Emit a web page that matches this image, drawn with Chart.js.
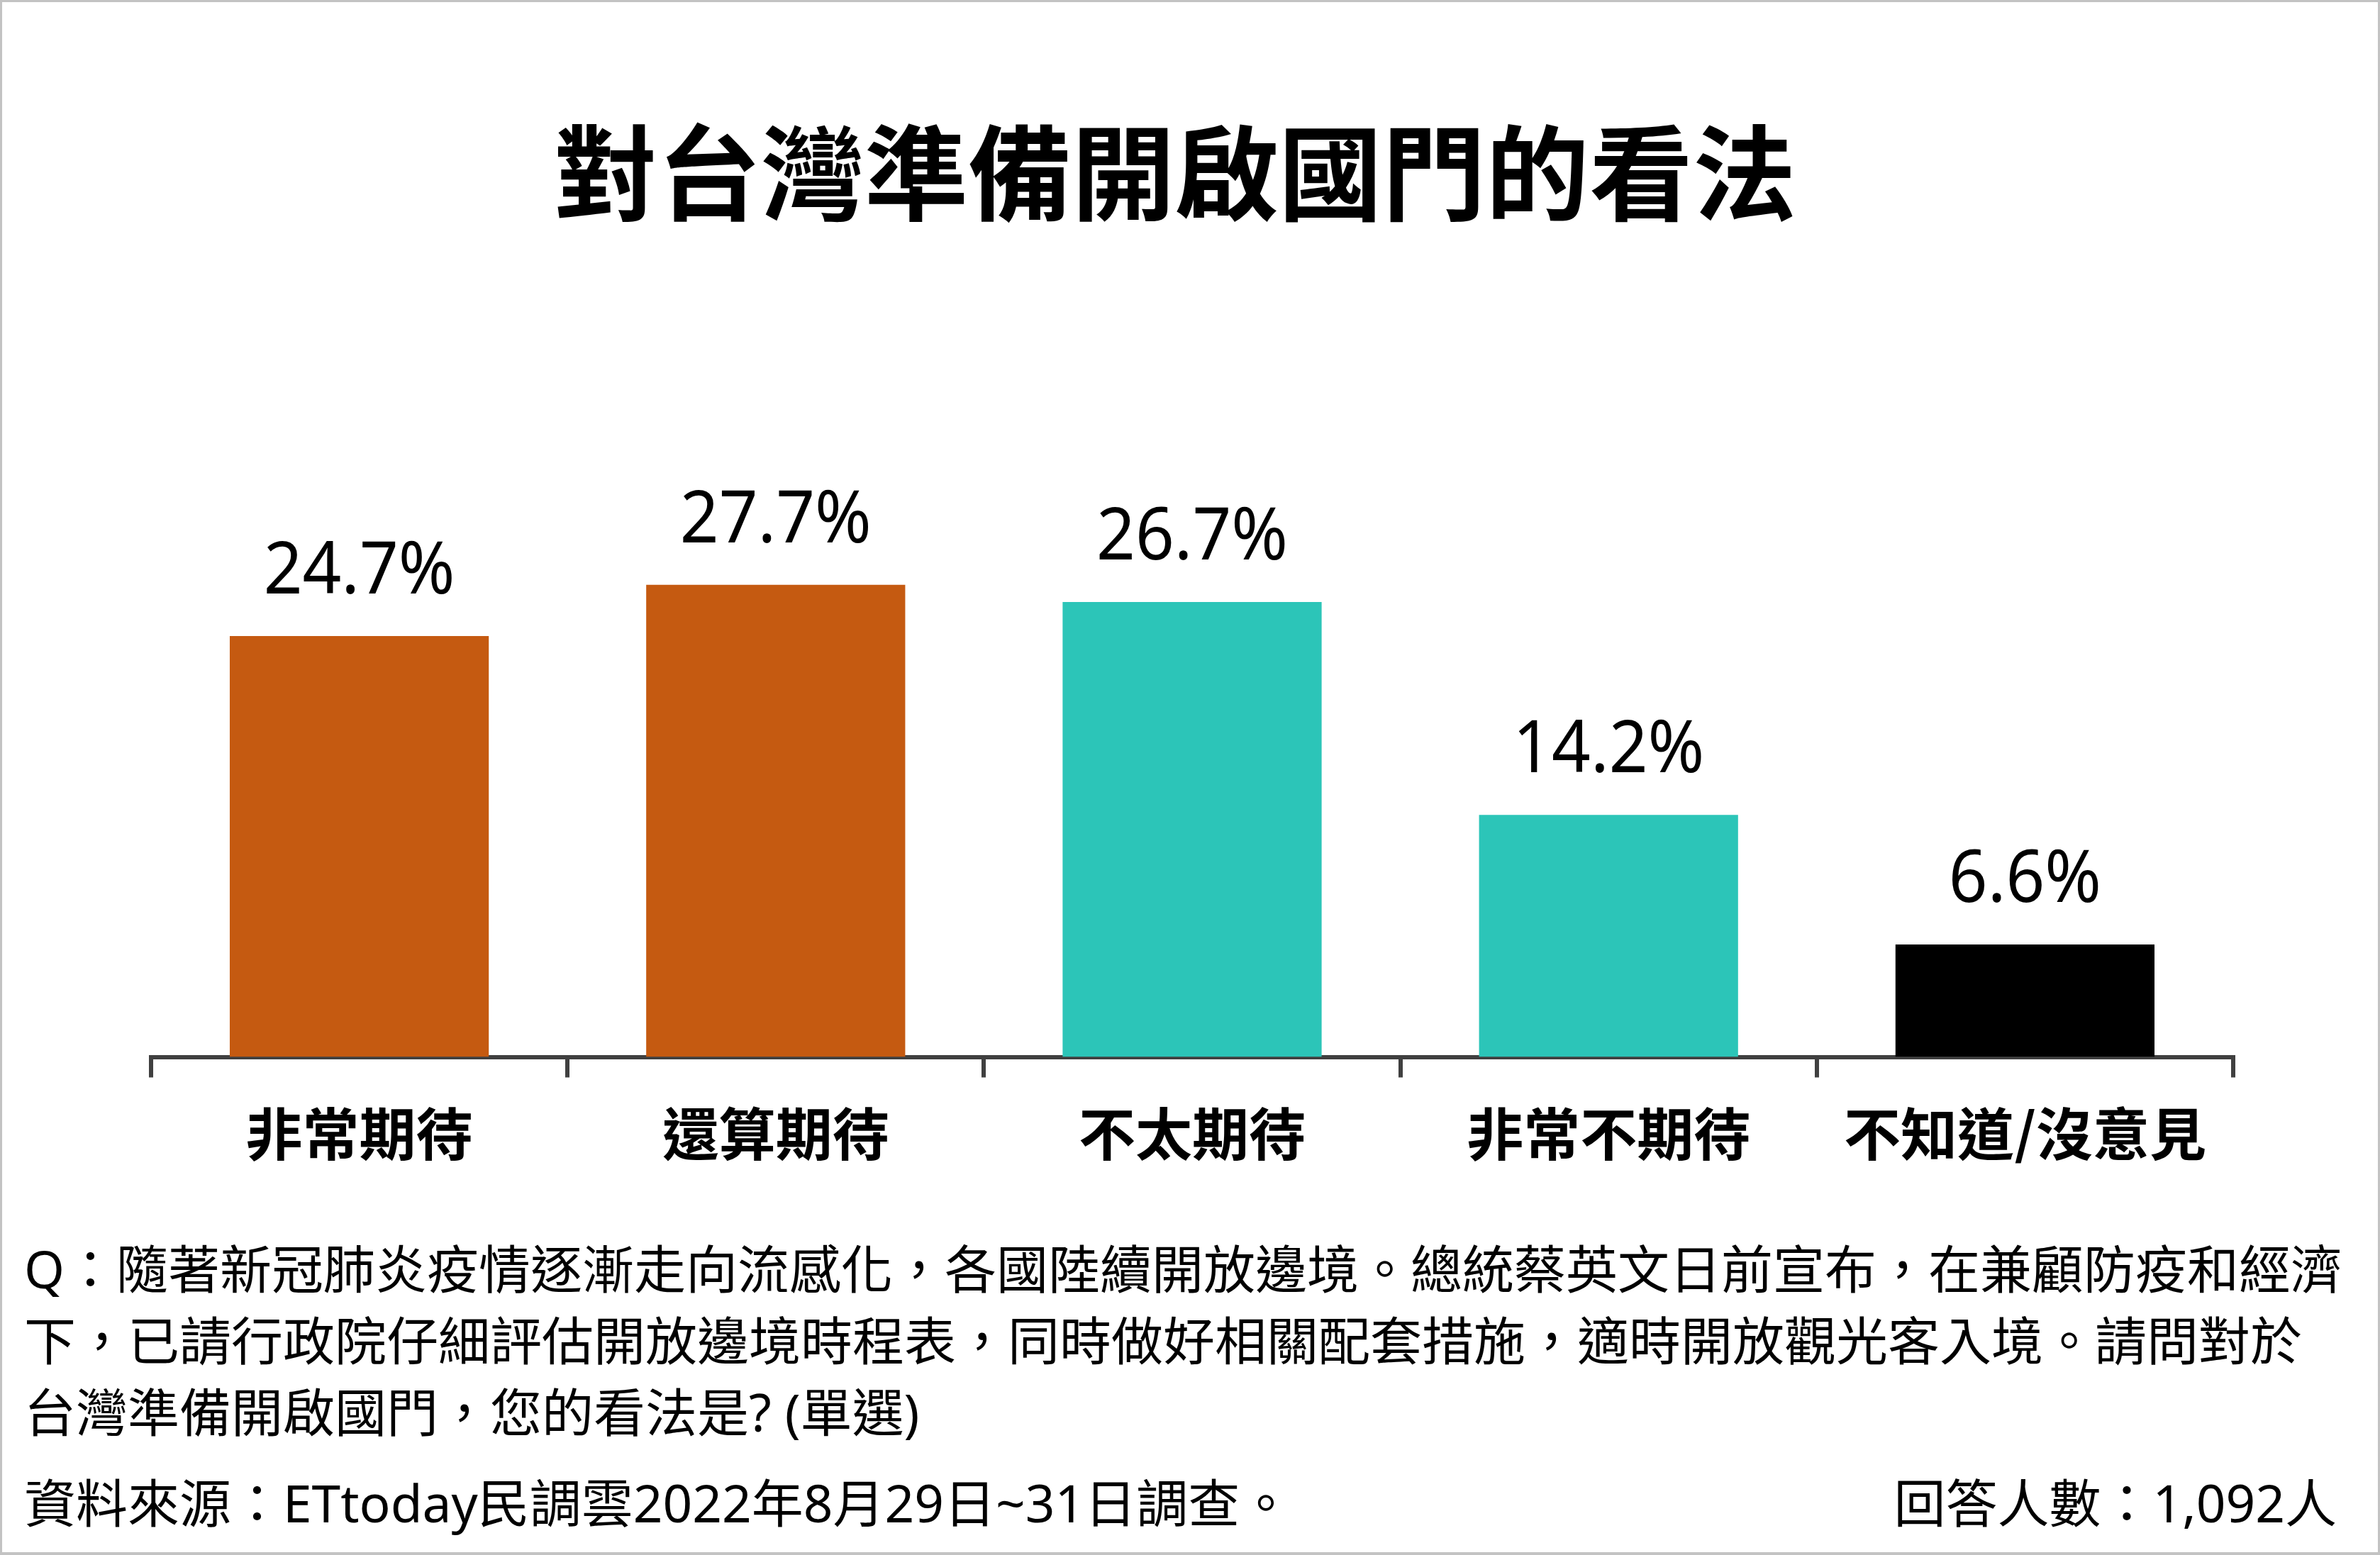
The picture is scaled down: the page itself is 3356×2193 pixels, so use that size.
<!DOCTYPE html>
<html>
<head>
<meta charset="utf-8">
<script src="https://cdn.jsdelivr.net/npm/chart.js@4.4.0/dist/chart.umd.min.js"></script>
<style>
html,body{margin:0;padding:0;background:#fff;}
body{width:3356px;height:2193px;position:relative;overflow:hidden;font-family:"Noto Sans CJK TC","Noto Sans",sans-serif;color:#000;}
#frame{position:absolute;left:0;top:0;width:3356px;height:2193px;box-sizing:border-box;border:3px solid #c3c3c3;border-bottom-width:4px;pointer-events:none;z-index:5;}
#chart{position:absolute;left:0;top:0;}
#title{position:absolute;left:657px;width:2000px;text-align:center;top:148px;font-size:146px;font-weight:700;line-height:175px;white-space:nowrap;}
.foot{position:absolute;font-family:"Noto Sans","Noto Sans CJK TC",sans-serif;font-size:73px;line-height:101px;white-space:nowrap;}
#question{left:34px;top:1738px;}
#source{left:34px;top:2068px;}
#count{right:61px;top:2068px;text-align:right;}
</style>
</head>
<body>
<canvas id="chart" width="3356" height="2193"></canvas>
<div id="title"></div>
<div id="question" class="foot"></div>
<div id="source" class="foot"></div>
<div id="count" class="foot"></div>
<div id="frame"></div>
<script>
// ---- data ----
const titleText = '對台灣準備開啟國門的看法';
const categories = ['非常期待', '還算期待', '不太期待', '非常不期待', '不知道/沒意見'];
const values = [24.7, 27.7, 26.7, 14.2, 6.6];
const questionLines = [
  'Q：隨著新冠肺炎疫情逐漸走向流感化，各國陸續開放邊境。總統蔡英文日前宣布，在兼顧防疫和經濟',
  '下，已請行政院仔細評估開放邊境時程表，同時做好相關配套措施，適時開放觀光客入境。請問對於',
  '台灣準備開啟國門，您的看法是? (單選)'
];
const sourceText = '資料來源：ETtoday民調雲2022年8月29日~31日調查。';
const countText = '回答人數：1,092人';
const yMin = 0;
const yMax = 30;

// ---- styles ----
const barColors = ['#C55A11', '#C55A11', '#2CC5B8', '#2CC5B8', '#000000'];
const axisColor = '#404040';

document.getElementById('title').textContent = titleText;
const q = document.getElementById('question');
questionLines.forEach((line, i) => {
  if (i > 0) q.appendChild(document.createElement('br'));
  q.appendChild(document.createTextNode(line));
});
document.getElementById('source').textContent = sourceText;
document.getElementById('count').textContent = countText;

const valueLabels = {
  id: 'valueLabels',
  afterDatasetsDraw(chart) {
    const ctx = chart.ctx;
    const meta = chart.getDatasetMeta(0);
    ctx.save();
    ctx.fillStyle = '#000';
    ctx.font = '400 102px "Noto Sans", "Open Sans", sans-serif';
    ctx.textAlign = 'center';
    ctx.textBaseline = 'alphabetic';
    meta.data.forEach((bar, i) => {
      const txt = values[i].toFixed(1) + '%';
      ctx.save();
      ctx.translate(bar.x, bar.y - 60);
      ctx.scale(0.94, 1);
      ctx.fillText(txt, 0, 0);
      ctx.restore();
    });
    ctx.restore();
  }
};

new Chart(document.getElementById('chart'), {
  type: 'bar',
  data: {
    labels: categories,
    datasets: [{
      data: values,
      backgroundColor: barColors,
      borderWidth: 0,
      categoryPercentage: 1.0,
      barPercentage: 0.622
    }]
  },
  options: {
    responsive: false,
    animation: false,
    layout: { padding: { left: 213, right: 207, top: 769.6, bottom: 552.5 } },
    plugins: {
      legend: { display: false },
      title: { display: false },
      tooltip: { enabled: false }
    },
    scales: {
      x: {
        z: 1,
        offset: true,
        border: { display: true, color: axisColor, width: 6 },
        grid: {
          display: true,
          offset: true,
          drawOnChartArea: false,
          drawTicks: true,
          tickLength: 29,
          color: axisColor,
          lineWidth: 6
        },
        ticks: {
          color: '#000',
          padding: 31,
          font: { family: '"Noto Sans CJK TC", "Noto Sans", sans-serif', size: 80, weight: 'bold', lineHeight: 1.2 }
        },
        afterFit(scale) { scale.height = 150; }
      },
      y: {
        display: false,
        min: yMin,
        max: yMax
      }
    }
  },
  plugins: [valueLabels]
});
</script>
</body>
</html>
